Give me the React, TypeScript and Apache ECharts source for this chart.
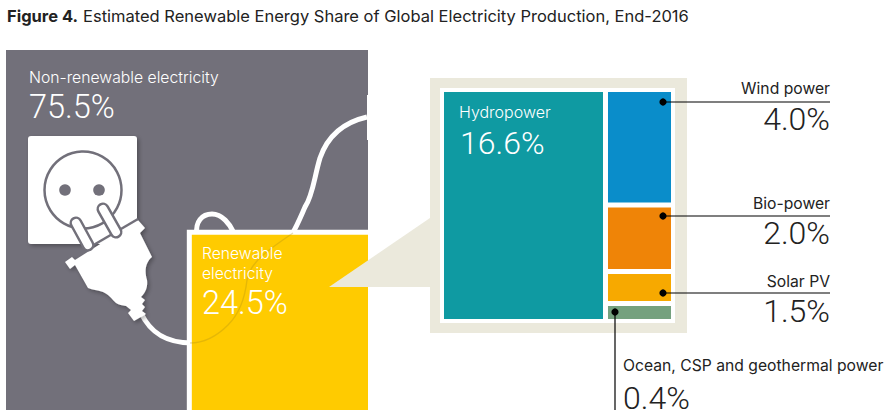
import React, { useEffect, useRef } from "react";
import * as echarts from "echarts";

const titleLead = "Figure 4.";
const titleRest = "Estimated Renewable Energy Share of Global Electricity Production, End-2016";

const totalShare = 100;
const renewableShare = 24.5;
const nonRenewableShare = 75.5;
const nonRenewableLabel = "Non-renewable electricity";
const renewableLabelLines = ["Renewable", "electricity"];

const hydroLabel = "Hydropower";
const hydroShare = 16.6;
const smallLabels = ["Wind power", "Bio-power", "Solar PV", "Ocean, CSP and geothermal power"];
const smallShares = [4.0, 2.0, 1.5, 0.4];

// Tile extents as they are drawn in the picture (the original's tiles are not strictly proportional).
const drawnHydroWidth = 17.43;
const drawnOtherWidth = 7.07;
const drawnSmallHeights = [3.93, 2.32, 1.11, 0.54];
const tileColors = ["#0f9aa2", "#0a8dca", "#ef8407", "#f7a900", "#75a17e"];

const GRAY = "#72707a";
const YELLOW = "#ffcb00";
const BEIGE = "#ebe9dc";
const FONT = "Inter, Roboto, Arial, sans-serif";
const NUM_FONT = "Roboto, Arial, sans-serif";

echarts.graphic.registerShape(
  "plugBody",
  echarts.graphic.extendPath(
    "M65 262 L72 257 L75 260 L138 220 L145 228 L140 233 L152 257 C146 262 144 270 147 280 C148 288 145 293 141 297 L145 300 L142 304 L145 307 L142 311 L146 314 L134 321 L131 317 L128 313 L131 310 L126 306 C122 305 119 305 116 303 C112 299 108 294 103 292 C97 290 93 290 88 288 L75 265 L70 269 Z",
    {}
  )
);
echarts.graphic.registerShape("cableRight", echarts.graphic.extendPath("M367 117 C345 122 328 135 320 158 C314 178 313 195 305 207 C301 216 297 226 292 234", {}));
echarts.graphic.registerShape("cableLoop", echarts.graphic.extendPath("M197 234 C195 222 202 214 212 214 C222 214 230 224 234 233", {}));
echarts.graphic.registerShape("cablePlug", echarts.graphic.extendPath("M141 313 C150 332 165 343 192 343", {}));
echarts.graphic.registerShape("cableFaint", echarts.graphic.extendPath("M293 233 C268 250 250 262 247 280 C245 298 240 313 228 325 C216 337 204 343 190 343", {}));

const pct = (v: number) => `${v.toFixed(1)}%`;

function text(t: string, x: number, baseline: number, size: number, color: string, align = "left", weight: any = 300, family = FONT) {
  return {
    type: "text",
    z: 20,
    x,
    y: baseline - size * 0.36,
    style: { text: t, fontFamily: family, fontSize: size, fontWeight: weight, fill: color, align, verticalAlign: "middle" },
  };
}

function App() {
  const ref = useRef<HTMLDivElement>(null);
  useEffect(() => {
    document.body.style.margin = "0";
    const chart = echarts.init(ref.current!, null, { renderer: "svg" });

    const side = Math.sqrt(renewableShare / totalShare) * totalShare;

    const smallTiles: number[][] = [];
    let acc = 0;
    drawnSmallHeights.forEach((h, i) => {
      smallTiles.push([drawnHydroWidth, drawnHydroWidth + drawnOtherWidth, acc, acc + h, i + 1]);
      acc += h;
    });
    const tiles = [[0, drawnHydroWidth, 0, acc, 0], ...smallTiles];
    const xMax = drawnHydroWidth + drawnOtherWidth;
    const yMax = acc;

    const shadow = { shadowColor: "rgba(0,0,0,0.3)", shadowBlur: 4, shadowOffsetX: 2, shadowOffsetY: 2 };
    const lineStyle = { stroke: "#000", lineWidth: 1.2 };
    const dot = (cx: number, cy: number) => ({ type: "circle", z: 20, shape: { cx, cy, r: 3.6 }, style: { fill: "#000" } });
    const leader = (x1: number, y1: number, x2: number, y2: number) => ({
      type: "line",
      z: 20,
      shape: { x1, y1, x2, y2 },
      style: lineStyle,
    });
    const gline = (x1: number, y1: number, x2: number, y2: number, z = 9) => ({
      type: "line",
      z,
      shape: { x1, y1, x2, y2 },
      style: { stroke: GRAY, lineWidth: 2.5 },
    });
    const prong = (x1: number, y1: number, x2: number, y2: number) => [
      { type: "line", z: 10, shape: { x1, y1, x2, y2 }, style: { stroke: GRAY, lineWidth: 13, lineCap: "round" } },
      { type: "line", z: 11, shape: { x1, y1, x2, y2 }, style: { stroke: "#fff", lineWidth: 8, lineCap: "round" } },
    ];

    const elements: any[] = [
      // socket
      { type: "rect", z: 3, shape: { x: 28, y: 136, width: 109, height: 108, r: 3 }, style: { fill: "#fff", ...shadow } },
      { type: "circle", z: 4, shape: { cx: 83, cy: 190, r: 38.5 }, style: { fill: "#fff", stroke: GRAY, lineWidth: 2.5 } },
      { type: "circle", z: 4, shape: { cx: 65, cy: 190, r: 5.8 }, style: { fill: GRAY } },
      { type: "circle", z: 4, shape: { cx: 99, cy: 190, r: 5.8 }, style: { fill: GRAY } },
      // cables and plug
      { type: "cableRight", z: 3, style: { fill: "none", stroke: "#fff", lineWidth: 5 } },
      { type: "cableLoop", z: 3, style: { fill: "none", stroke: "#fff", lineWidth: 5 } },
      { type: "cablePlug", z: 3, style: { fill: "none", stroke: "#fff", lineWidth: 5 } },
      { type: "rect", z: 3, shape: { x: 367, y: 95, width: 1, height: 45 }, style: { fill: "#fff" } },
      { type: "plugBody", z: 5, style: { fill: "#fff", ...shadow } },
      gline(85, 250, 138, 219),
      ...prong(76, 223, 88, 245),
      ...prong(103, 209, 116, 232),
      { type: "cableFaint", z: 8, style: { fill: "none", stroke: "rgba(170,140,20,0.3)", lineWidth: 1.4 } },
      // callout and panel
      { type: "polygon", z: 8, shape: { points: [[329, 287], [430, 218], [430, 287]] }, style: { fill: BEIGE } },
      { type: "rect", z: 8, shape: { x: 430, y: 78, width: 257, height: 255 }, style: { fill: BEIGE } },
      { type: "rect", z: 8, shape: { x: 440, y: 88, width: 235, height: 235 }, style: { fill: "#fff" } },
      // texts
      text(nonRenewableLabel, 29, 83, 15.75, "#fff"),
      text(pct(nonRenewableShare), 29, 119, 32.5, "#fff", "left", 300, NUM_FONT),
      text(renewableLabelLines[0], 202, 259, 15.7, "#fff"),
      text(renewableLabelLines[1], 202, 279, 15.7, "#fff"),
      text(pct(renewableShare), 202, 315, 32.5, "#fff", "left", 300, NUM_FONT),
      text(hydroLabel, 459, 118, 16, "#fff"),
      text(pct(hydroShare), 460, 155, 32, "#fff", "left", 300, NUM_FONT),
      // leaders
      dot(663, 102), leader(663, 102, 830, 102),
      dot(663, 216), leader(663, 216, 830, 216),
      dot(663, 293), leader(663, 293, 830, 293),
      dot(615, 312), leader(615, 312, 615, 410),
      text(smallLabels[0], 830, 94.5, 15.7, "#222", "right", 400),
      text(pct(smallShares[0]), 830, 131, 32, "#222", "right", 300, NUM_FONT),
      text(smallLabels[1], 830, 209.5, 15.7, "#222", "right", 400),
      text(pct(smallShares[1]), 830, 245, 32, "#222", "right", 300, NUM_FONT),
      text(smallLabels[2], 830, 287.5, 15.7, "#222", "right", 400),
      text(pct(smallShares[2]), 830, 323, 32, "#222", "right", 300, NUM_FONT),
      text(smallLabels[3], 623, 371.5, 15.7, "#222", "left", 400),
      text(pct(smallShares[3]), 623, 410, 32, "#222", "left", 300, NUM_FONT),
    ];

    const hiddenAxis = (min: number, max: number, extra: any = {}) => ({
      type: "value",
      min,
      max,
      show: false,
      ...extra,
    });

    chart.setOption({
      animation: false,
      backgroundColor: "#fff",
      title: {
        left: 7,
        top: 7,
        padding: 0,
        text: `{b|${titleLead}} {r|${titleRest}}`,
        textStyle: {
          rich: {
            b: { fontFamily: FONT, fontSize: 16.5, fontWeight: 700, color: "#222" },
            r: { fontFamily: FONT, fontSize: 16.5, fontWeight: 400, color: "#222" },
          },
        },
      },
      grid: [
        { left: 6, top: 50, width: 362, height: 360 },
        { left: 444, top: 92, width: 227, height: 227 },
      ],
      xAxis: [hiddenAxis(0, totalShare, { gridIndex: 0 }), hiddenAxis(0, xMax, { gridIndex: 1 })],
      yAxis: [
        hiddenAxis(0, totalShare, { gridIndex: 0, inverse: true }),
        hiddenAxis(0, yMax, { gridIndex: 1, inverse: true }),
      ],
      series: [
        {
          type: "custom",
          name: "Non-renewable",
          z: 1,
          xAxisIndex: 0,
          yAxisIndex: 0,
          coordinateSystem: "cartesian2d",
          data: [[0, totalShare]],
          renderItem: (_p: any, api: any) => {
            const a = api.coord([0, 0]);
            const b = api.coord([totalShare, totalShare]);
            return { type: "rect", shape: { x: a[0], y: a[1], width: b[0] - a[0], height: b[1] - a[1] }, style: { fill: GRAY } };
          },
        },
        {
          type: "custom",
          name: "Renewable",
          z: 6,
          xAxisIndex: 0,
          yAxisIndex: 0,
          coordinateSystem: "cartesian2d",
          data: [[totalShare - side, totalShare]],
          renderItem: (_p: any, api: any) => {
            const a = api.coord([totalShare - side, totalShare - side]);
            const b = api.coord([totalShare, totalShare]);
            return {
              type: "group",
              children: [
                { type: "rect", shape: { x: a[0] - 2, y: a[1] - 2, width: b[0] - a[0] + 2, height: b[1] - a[1] + 2 }, style: { fill: "#fff" } },
                { type: "rect", shape: { x: a[0] + 3, y: a[1] + 3, width: b[0] - a[0] - 3, height: b[1] - a[1] - 3 }, style: { fill: YELLOW } },
              ],
            };
          },
        },
        {
          type: "custom",
          name: "Renewable breakdown",
          z: 12,
          xAxisIndex: 1,
          yAxisIndex: 1,
          coordinateSystem: "cartesian2d",
          encode: { x: [0, 1], y: [2, 3] },
          data: tiles,
          renderItem: (_p: any, api: any) => {
            const x0 = api.value(0), x1 = api.value(1), y0 = api.value(2), y1 = api.value(3);
            const a = api.coord([x0, y0]);
            const b = api.coord([x1, y1]);
            const gap = 2.5;
            const l = a[0] + (x0 > 0 ? gap : 0);
            const r = b[0] - (x1 < xMax ? gap : 0);
            const t = a[1] + (y0 > 0 ? gap : 0);
            const bt = b[1] - (y1 < yMax - 1e-6 ? gap : 0);
            return {
              type: "rect",
              shape: { x: l, y: t, width: r - l, height: bt - t },
              style: { fill: tileColors[api.value(4)] },
            };
          },
        },
      ],
      graphic: { elements },
    });
    return () => chart.dispose();
  }, []);
  return <div ref={ref} style={{ position: "fixed", left: 0, top: 0, width: 890, height: 420 }} />;
}

export default App;
